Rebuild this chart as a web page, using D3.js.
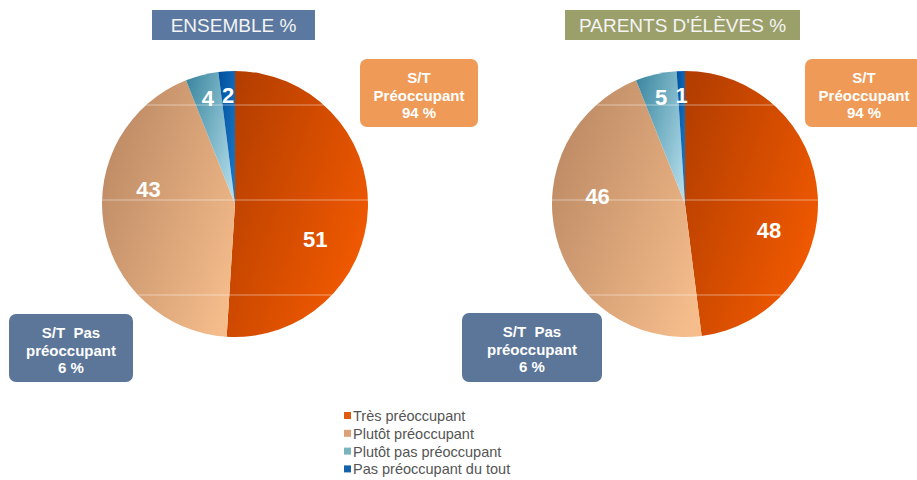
<!DOCTYPE html>
<html>
<head>
<meta charset="utf-8">
<script src="https://cdn.jsdelivr.net/npm/d3@7"></script>
<style>
  body { margin: 0; background: #fff; }
  svg { font-family: "Liberation Sans", Arial, Helvetica, sans-serif; }
</style>
</head>
<body>
<div id="viz"></div>
<script>
const width = 917;
const height = 480;

// data
const categories = ['Très préoccupant', 'Plutôt préoccupant', 'Plutôt pas préoccupant', 'Pas préoccupant du tout'];
const ensembleValues = [51, 43, 4, 2];
const parentsValues = [48, 46, 5, 1];
const panelTitles = ['ENSEMBLE %', "PARENTS D'ÉLÈVES %"];
const preoccupantLines = ['S/T', 'Préoccupant', '94 %'];
const pasPreoccupantLines = ['S/T\u00a0\u00a0Pas', 'préoccupant', '6 %'];

// gradient stops per category: [dark (left), light (right)]
const sliceColors = [
    ['#b43e00', '#f75c00'],
    ['#b98762', '#f6bd8c'],
    ['#3f8aa2', '#b2dcea'],
    ['#00529e', '#1a76c4']
];
const legendColors = ['#e05a10', '#dca078', '#7ab4be', '#1462aa'];

const svg = d3.select('#viz')
    .append('svg')
        .attr('width', width)
        .attr('height', height);

const defs = svg.append('defs');
sliceColors.forEach((c, i) => {
    const g = defs.append('linearGradient')
        .attr('id', 'grad' + i)
        .attr('x1', 0).attr('y1', 0.15)
        .attr('x2', 1).attr('y2', 0.85);
    g.append('stop').attr('offset', '0%').attr('stop-color', c[0]);
    g.append('stop').attr('offset', '100%').attr('stop-color', c[1]);
});

const radius = 133;
const pie = d3.pie().sort(null).value(d => d);
const arc = d3.arc().innerRadius(0).outerRadius(radius);

const panels = [
    {values: ensembleValues, cx: 235, cy: 204, title: panelTitles[0], titleColor: '#5b78a0',
     titleBox: [152, 10, 163, 30], orangeBox: [360, 59, 118, 68], blueBox: [9, 314, 124, 68]},
    {values: parentsValues, cx: 685, cy: 204, title: panelTitles[1], titleColor: '#9b9f6a',
     titleBox: [565, 10, 235, 30], orangeBox: [805, 59, 118, 68], blueBox: [462, 313, 140, 69]}
];

panels.forEach((p, pi) => {
    // title
    svg.append('rect')
        .attr('x', p.titleBox[0]).attr('y', p.titleBox[1])
        .attr('width', p.titleBox[2]).attr('height', p.titleBox[3])
        .attr('fill', p.titleColor);
    svg.append('text')
        .attr('x', p.titleBox[0] + p.titleBox[2] / 2)
        .attr('y', p.titleBox[1] + 22)
        .attr('text-anchor', 'middle')
        .attr('fill', '#f4f4f4')
        .style('font-size', '19px')
        .text(p.title);

    const g = svg.append('g')
        .attr('transform', `translate(${p.cx},${p.cy})`);

    const arcs = pie(p.values);
    g.selectAll('path.slice')
        .data(arcs)
        .join('path')
            .attr('class', 'slice')
            .attr('d', arc)
            .attr('fill', (d, i) => `url(#grad${i})`);

    // faint slide gridlines crossing the pies
    defs.append('clipPath').attr('id', 'clip' + pi)
        .append('circle').attr('r', radius);
    g.append('g')
        .attr('clip-path', `url(#clip${pi})`)
        .selectAll('line')
        .data([-99, -4, 91])
        .join('line')
            .attr('x1', -radius).attr('x2', radius)
            .attr('y1', d => d).attr('y2', d => d)
            .attr('stroke', '#fff')
            .attr('stroke-opacity', 0.45)
            .attr('stroke-width', 1);

    // value labels
    g.selectAll('text.val')
        .data(arcs)
        .join('text')
            .attr('class', 'val')
            .attr('transform', d => {
                let a, r;
                if (d.data >= 10) {
                    a = d.startAngle + 0.62 * (d.endAngle - d.startAngle);
                    r = radius * 0.66;
                } else {
                    a = (d.startAngle + d.endAngle) / 2;
                    r = radius * 0.82;
                }
                return `translate(${Math.sin(a) * r},${-Math.cos(a) * r})`;
            })
            .attr('dy', '0.36em')
            .attr('text-anchor', 'middle')
            .attr('fill', '#fff')
            .style('font-size', '22px')
            .style('font-weight', 'bold')
            .text(d => d.data);

    // summary boxes
    const boxes = [
        {b: p.orangeBox, fill: '#ef9a56', lines: preoccupantLines},
        {b: p.blueBox, fill: '#5c7699', lines: pasPreoccupantLines}
    ];
    boxes.forEach(bx => {
        svg.append('rect')
            .attr('x', bx.b[0]).attr('y', bx.b[1])
            .attr('width', bx.b[2]).attr('height', bx.b[3])
            .attr('rx', 7)
            .attr('fill', bx.fill);
        svg.append('text')
            .attr('text-anchor', 'middle')
            .attr('fill', '#fff')
            .style('font-size', '15px')
            .style('font-weight', 'bold')
            .selectAll('tspan')
            .data(bx.lines)
            .join('tspan')
                .attr('x', bx.b[0] + bx.b[2] / 2)
                .attr('y', (d, i) => bx.b[1] + 24 + i * 17.5)
                .text(d => d);
    });
});

// legend
const legend = svg.append('g')
    .attr('transform', 'translate(344,408)');
const items = legend.selectAll('g')
    .data(categories)
    .join('g')
        .attr('transform', (d, i) => `translate(0,${i * 17.8})`);
items.append('rect')
    .attr('width', 7).attr('height', 7)
    .attr('y', 4)
    .attr('fill', (d, i) => legendColors[i]);
items.append('text')
    .attr('x', 9)
    .attr('y', 13)
    .attr('fill', '#555')
    .style('font-size', '14.5px')
    .text(d => d);
</script>
</body>
</html>
